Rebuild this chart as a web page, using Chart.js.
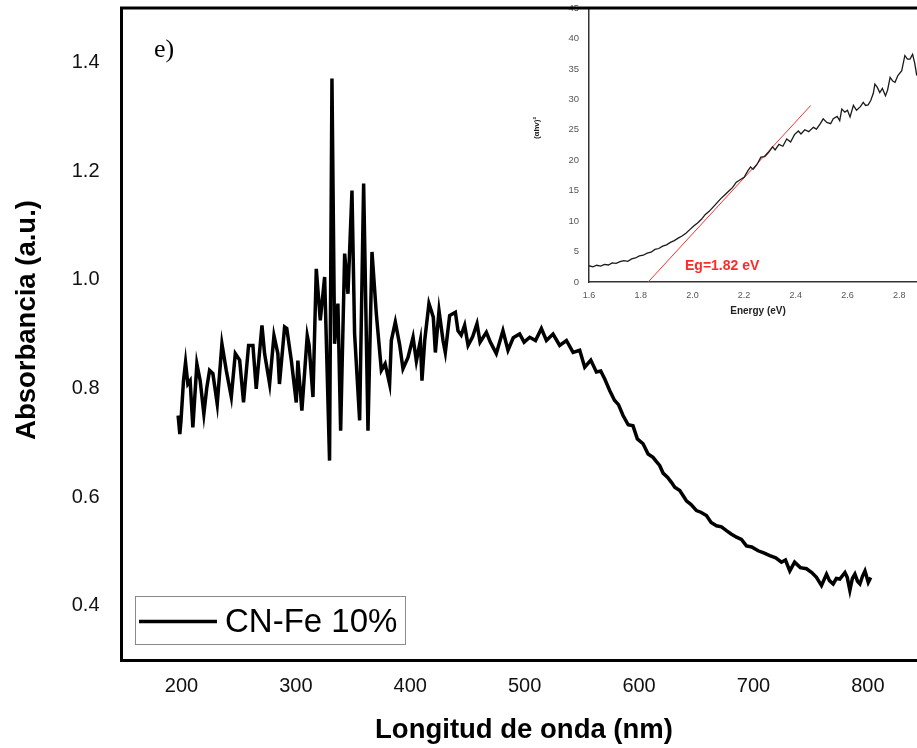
<!DOCTYPE html>
<html>
<head>
<meta charset="utf-8">
<script src="https://cdn.jsdelivr.net/npm/chart.js@4.4.1/dist/chart.umd.min.js"></script>
<style>
  html, body { margin: 0; padding: 0; background: #fff; overflow: hidden; }
  #wrap { position: relative; width: 917px; height: 748px; }
  #main { position: absolute; left: 0; top: 0; z-index: 2; }
  #inset { position: absolute; left: 530px; top: 0; z-index: 1; }
</style>
</head>
<body>
<div id="wrap">
  <canvas id="inset" width="387" height="320"></canvas>
  <canvas id="main" width="917" height="748"></canvas>
</div>
<script>
// ---------- main spectrum ----------
const wavelength = [197,198.5,199.5,201.7,203.5,205.5,207.5,209.9,213.4,216.3,219.5,222,224.5,227.4,231.2,235.3,239.1,243.5,247,250.8,254.2,258.6,262.4,265.3,270.3,272.6,277,280.8,284.2,285.6,290.1,292,296,300.3,301.7,305.2,309.9,311.5,314.9,317.8,321.3,325.1,329.4,331.5,333.8,336.7,339.1,342.6,345.5,349,351.3,355.7,359.2,363,366.5,370.3,374.7,378,381.9,383.4,386.9,390.7,393.6,398,402.4,405.3,408.8,410.2,412.6,416.3,420.1,421.9,425.1,428.6,430.6,434.4,439.4,441.7,444.5,447.5,450.5,454.5,458.3,461,466.5,470,475.2,481,485.4,490,495.6,499.5,504.4,509.5,514.6,519,524.8,530.6,536.5,542.3,548.1,552.5,557.8,562.7,566.5,570,574.3,578.5,582,586,590.5,594.7,598.5,603.5,607.9,612.2,615.2,618,621,625,628.3,631.2,635.6,641.4,645.5,650.2,654,658.9,663,667.7,672,676.4,680.5,685.2,689.5,693.9,698.5,704.1,709,714.3,719.5,724.5,728,731.8,736,741,746.4,751,755.1,759.5,763.9,766.5,769.7,772.5,775.5,780,782,784.3,786.5,788.7,791,793.1,795.5,797.5,800.4,802.5];
const absorbance = [0.750,0.716,0.740,0.814,0.848,0.808,0.814,0.728,0.845,0.814,0.753,0.800,0.833,0.827,0.771,0.882,0.833,0.784,0.864,0.852,0.774,0.879,0.879,0.799,0.916,0.864,0.808,0.897,0.864,0.808,0.913,0.910,0.851,0.774,0.851,0.759,0.897,0.880,0.784,1.020,0.925,1.005,0.667,1.370,0.882,0.956,0.722,1.048,0.974,1.164,0.900,0.741,1.177,0.722,1.051,0.937,0.833,0.845,0.808,0.888,0.922,0.880,0.836,0.857,0.894,0.850,0.888,0.814,0.888,0.956,0.931,0.866,0.943,0.888,0.866,0.934,0.940,0.906,0.898,0.916,0.879,0.895,0.919,0.885,0.903,0.885,0.864,0.906,0.870,0.893,0.900,0.885,0.894,0.888,0.910,0.888,0.900,0.879,0.888,0.866,0.870,0.839,0.852,0.830,0.832,0.817,0.796,0.778,0.770,0.750,0.733,0.731,0.707,0.698,0.679,0.673,0.665,0.658,0.644,0.636,0.627,0.618,0.612,0.593,0.586,0.575,0.572,0.566,0.553,0.547,0.545,0.538,0.532,0.526,0.522,0.510,0.508,0.501,0.497,0.492,0.488,0.480,0.484,0.464,0.480,0.470,0.468,0.461,0.452,0.437,0.458,0.446,0.440,0.450,0.449,0.461,0.452,0.428,0.450,0.458,0.445,0.440,0.455,0.464,0.443,0.452];
const xTicks = [200,300,400,500,600,700,800];
const yTicks = [0.4,0.6,0.8,1.0,1.2,1.4];
const seriesName = 'CN-Fe 10%';
const xTitle = 'Longitud de onda (nm)';
const yTitle = 'Absorbancia (a.u.)';

// ---------- inset (Tauc plot) ----------
const energy = [1.600,1.615,1.630,1.645,1.660,1.675,1.690,1.705,1.720,1.735,1.750,1.765,1.780,1.795,1.810,1.825,1.840,1.855,1.870,1.885,1.900,1.915,1.930,1.945,1.960,1.975,1.990,2.005,2.020,2.035,2.050,2.065,2.080,2.095,2.110,2.125,2.140,2.155,2.170,2.185,2.200,2.215,2.225,2.235,2.250,2.265,2.280,2.295,2.310,2.320,2.335,2.350,2.365,2.380,2.395,2.410,2.420,2.435,2.450,2.468,2.480,2.495,2.506,2.520,2.535,2.545,2.560,2.570,2.578,2.590,2.600,2.610,2.623,2.635,2.650,2.661,2.670,2.680,2.690,2.700,2.706,2.715,2.725,2.735,2.747,2.755,2.765,2.775,2.784,2.795,2.810,2.822,2.832,2.842,2.852,2.860,2.868];
const tauc = [2.67,2.5,2.75,2.6,2.9,2.8,3.15,3.05,3.35,3.5,3.4,3.8,3.95,4.3,4.4,4.75,4.9,5.35,5.5,5.9,6.1,6.5,6.8,7.2,7.55,8.0,8.6,9.2,9.7,10.3,11.1,11.6,12.3,13.0,13.7,14.3,14.9,15.5,16.4,16.8,17.2,18.3,18.9,18.5,19.3,20.5,20.6,21.3,22.2,21.7,22.6,22.3,23.5,23.0,24.2,24.8,24.3,25.0,24.7,25.4,25.1,26.0,26.8,26.2,26.0,26.8,27.2,26.5,28.4,27.9,28.2,27.1,29.0,28.2,28.8,29.5,29.0,29.1,29.8,31.0,32.5,32.0,31.1,31.8,30.6,31.5,33.6,33.0,32.8,33.9,34.7,37.2,36.6,36.6,37.4,36.0,33.9];
const fitEnergy = [1.829,2.458];
const fitValue = [0,29.0];
const insetXTicks = [1.6,1.8,2.0,2.2,2.4,2.6,2.8];
const insetYTicks = [0,5,10,15,20,25,30,35,40,45];
const gapLabel = 'Eg=1.82 eV';
const insetXTitle = 'Energy (eV)';
const insetYTitle = '(\u03B1hv)\u00B2';

const SANS = "'Liberation Sans', Arial, sans-serif";

function noPadX(s) { s.paddingLeft = 0; s.paddingRight = 0; }
function noPadY(s) { s.paddingTop = 0; s.paddingBottom = 0; }

// ---------- main chart ----------
const mainDecor = {
  id: 'mainDecor',
  afterDraw(chart) {
    const ctx = chart.ctx, a = chart.chartArea;
    ctx.save();
    ctx.strokeStyle = '#000';
    ctx.lineWidth = 3;
    ctx.beginPath();
    ctx.moveTo(a.left - 1.5, a.top);
    ctx.lineTo(a.right, a.top);
    ctx.stroke();
    ctx.fillStyle = '#000';
    ctx.textBaseline = 'middle';
    // axis titles
    ctx.font = "bold 27.5px " + SANS;
    ctx.textAlign = 'center';
    ctx.fillText(xTitle, 524, 730);
    ctx.save();
    ctx.translate(27, 320);
    ctx.rotate(-Math.PI / 2);
    ctx.fillText(yTitle, 0, 0);
    ctx.restore();
    // panel label
    ctx.textAlign = 'left';
    ctx.font = "26px 'Liberation Serif', 'Times New Roman', serif";
    ctx.fillText('e)', 154, 50);
    // legend
    ctx.strokeStyle = '#8a8a8a';
    ctx.lineWidth = 1;
    ctx.strokeRect(135.5, 596.5, 270, 48);
    ctx.strokeStyle = '#000';
    ctx.lineWidth = 3.5;
    ctx.beginPath();
    ctx.moveTo(139, 621.5);
    ctx.lineTo(217, 621.5);
    ctx.stroke();
    ctx.font = "33px " + SANS;
    ctx.fillText(seriesName, 225, 623);
    ctx.restore();
  }
};

new Chart(document.getElementById('main'), {
  type: 'line',
  data: {
    datasets: [{
      label: seriesName,
      data: wavelength.map((w, i) => ({ x: w, y: absorbance[i] })),
      borderColor: '#000',
      borderWidth: 3.5,
      pointRadius: 0,
      tension: 0,
      fill: false
    }]
  },
  options: {
    responsive: false,
    animation: false,
    devicePixelRatio: 1,
    layout: { padding: { top: 8, right: 0, left: 0, bottom: 0 } },
    plugins: { legend: { display: false }, tooltip: { enabled: false } },
    scales: {
      x: {
        type: 'linear',
        min: 147.5,
        max: 843,
        afterFit(s) { s.height = 88; noPadX(s); },
        afterBuildTicks(s) { s.ticks = xTicks.map(v => ({ value: v })); },
        grid: { display: false },
        border: { display: true, color: '#000', width: 3 },
        ticks: { color: '#111', padding: 6, font: { family: SANS, size: 20 }, callback: v => String(v) }
      },
      y: {
        min: 0.3,
        max: 1.5,
        afterFit(s) { s.width = 121.5; noPadY(s); },
        afterBuildTicks(s) { s.ticks = yTicks.map(v => ({ value: v })); },
        grid: { display: false },
        border: { display: true, color: '#000', width: 3 },
        ticks: { color: '#111', padding: 14, font: { family: SANS, size: 20 }, callback: v => Number(v).toFixed(1) }
      }
    }
  },
  plugins: [mainDecor]
});

// ---------- inset chart ----------
const insetDecor = {
  id: 'insetDecor',
  afterDraw(chart) {
    const ctx = chart.ctx;
    ctx.save();
    ctx.fillStyle = '#ff2a2a';
    ctx.font = "bold 14px " + SANS;
    ctx.textBaseline = 'middle';
    ctx.textAlign = 'left';
    ctx.fillText(gapLabel, 155, 266);
    ctx.fillStyle = '#222';
    ctx.textAlign = 'center';
    ctx.font = "bold 10px " + SANS;
    ctx.fillText(insetXTitle, 228, 311);
    ctx.font = "bold 8px " + SANS;
    ctx.translate(7, 128);
    ctx.rotate(-Math.PI / 2);
    ctx.fillText(insetYTitle, 0, 0);
    ctx.restore();
  }
};

new Chart(document.getElementById('inset'), {
  type: 'line',
  data: {
    datasets: [{
      data: energy.map((e, i) => ({ x: e, y: tauc[i] })),
      borderColor: '#1a1a1a',
      borderWidth: 1.3,
      pointRadius: 0,
      tension: 0
    }, {
      data: fitEnergy.map((e, i) => ({ x: e, y: fitValue[i] })),
      borderColor: '#ff3030',
      borderWidth: 1,
      pointRadius: 0,
      tension: 0
    }]
  },
  options: {
    responsive: false,
    animation: false,
    devicePixelRatio: 1,
    layout: { padding: { top: 8, right: 0, left: 0, bottom: 0 } },
    plugins: { legend: { display: false }, tooltip: { enabled: false } },
    scales: {
      x: {
        type: 'linear',
        min: 1.6,
        max: 2.869,
        afterFit(s) { s.height = 38; noPadX(s); },
        afterBuildTicks(s) { s.ticks = insetXTicks.map(v => ({ value: v })); },
        grid: { display: false },
        border: { display: true, color: '#333', width: 1.5 },
        ticks: { color: '#555', padding: 0, font: { family: SANS, size: 9 }, callback: v => Number(v).toFixed(1) }
      },
      y: {
        min: 0,
        max: 45,
        afterFit(s) { s.width = 59; noPadY(s); },
        afterBuildTicks(s) { s.ticks = insetYTicks.map(v => ({ value: v })); },
        grid: { display: false },
        border: { display: true, color: '#333', width: 1.5 },
        ticks: { color: '#555', padding: 2, font: { family: SANS, size: 9.5 } }
      }
    }
  },
  plugins: [insetDecor]
});
</script>
</body>
</html>
